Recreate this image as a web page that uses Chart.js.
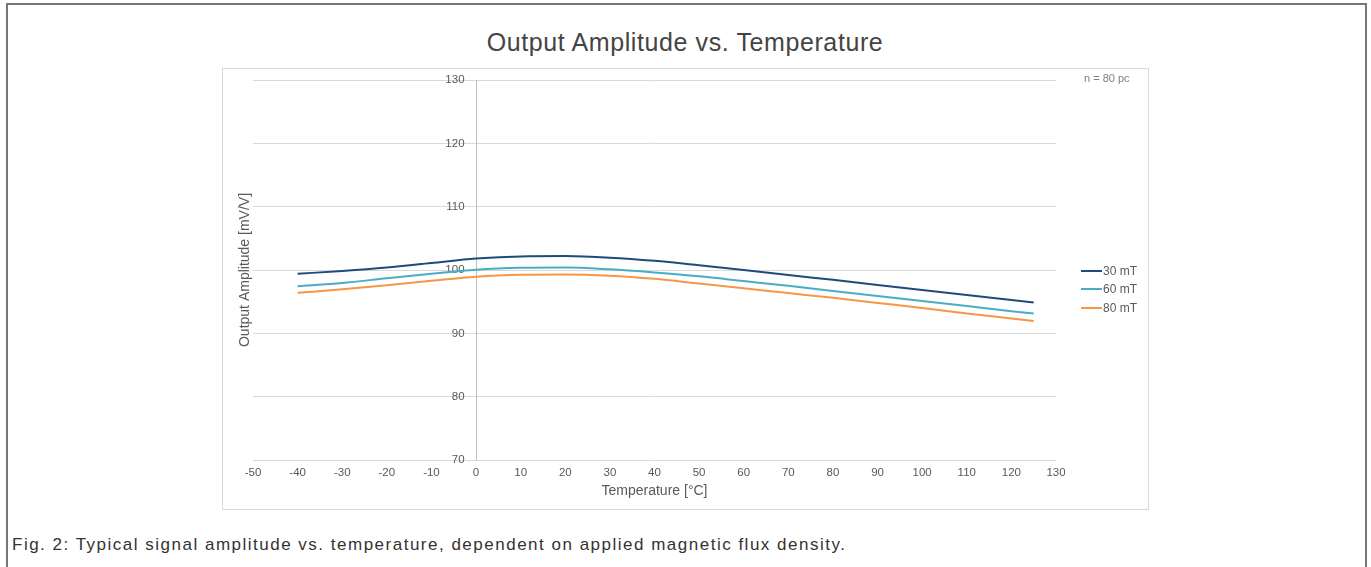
<!DOCTYPE html>
<html>
<head>
<meta charset="utf-8">
<title>Output Amplitude vs. Temperature</title>
<script src="https://cdn.jsdelivr.net/npm/chart.js@4"></script>
<style>
  body { margin: 0; background: #fff; font-family: "Liberation Sans", Arial, sans-serif; }
  #frame { position: absolute; left: 6px; top: 3px; width: 1361px; height: 620px; border: 2px solid #777; box-sizing: border-box; }
  #title { position: absolute; left: 222px; width: 926px; top: 27px; line-height: 30px; text-align: center; font-size: 25px; letter-spacing: 0.6px; color: #444; }
  #box { position: absolute; left: 222px; top: 68px; width: 927px; height: 442px; border: 1px solid #d9d9d9; box-sizing: border-box; }
  #chartWrap { position: absolute; left: 222px; top: 68px; width: 926px; height: 441px; }
  #note { position: absolute; left: 1084px; top: 71px; font-size: 11px; line-height: 14px; color: #808080; }
  .legItem { position: absolute; left: 1081px; height: 14px; font-size: 12px; line-height: 14px; color: #595959; white-space: nowrap; }
  .legItem span.ln { display: inline-block; width: 21px; height: 2px; vertical-align: middle; margin-right: 1px; position: relative; top: -1px; }
  #caption { position: absolute; left: 12px; top: 535px; font-size: 17px; line-height: 20px; letter-spacing: 1.5px; color: #333; white-space: nowrap; }
</style>
</head>
<body>
<div id="frame"></div>
<div id="title">Output Amplitude vs. Temperature</div>
<div id="box"></div>
<div id="chartWrap"><canvas id="ampChart"></canvas></div>
<div id="note">n = 80 pc</div>
<div id="legend"></div>
<div id="caption">Fig. 2: Typical signal amplitude vs. temperature, dependent on applied magnetic flux density.</div>

<script>
// temperatures [°C] and output amplitude [mV/V]
var temps = [-40, -30, -20, -10, 0, 10, 20, 30, 40, 50, 60, 70, 80, 90, 100, 110, 120, 125];
var amp30 = [99.4, 99.85, 100.4, 101.1, 101.8, 102.15, 102.2, 101.95, 101.45, 100.75, 100.0, 99.2, 98.45, 97.65, 96.85, 96.05, 95.25, 94.85];
var amp60 = [97.45, 97.95, 98.7, 99.4, 100.05, 100.35, 100.4, 100.1, 99.6, 99.0, 98.25, 97.5, 96.7, 95.9, 95.1, 94.3, 93.5, 93.15];
var amp80 = [96.4, 96.95, 97.6, 98.3, 98.95, 99.25, 99.3, 99.1, 98.6, 97.85, 97.1, 96.35, 95.6, 94.8, 94.0, 93.15, 92.35, 91.95];
var seriesNames = ["30 mT", "60 mT", "80 mT"];
var seriesColors = ["#1f4a7c", "#4bacc6", "#f79646"];

var xMin = -50, xMax = 130, xStep = 10;
var yMin = 70, yMax = 130, yStep = 10;

function toPoints(vals) {
  return temps.map(function (t, i) { return { x: t, y: vals[i] }; });
}

var allSeries = [amp30, amp60, amp80];
var datasets = allSeries.map(function (vals, i) {
  return {
    label: seriesNames[i],
    data: toPoints(vals),
    borderColor: seriesColors[i],
    backgroundColor: seriesColors[i],
    borderWidth: 2,
    pointRadius: 0,
    cubicInterpolationMode: "monotone",
    fill: false
  };
});

var font = '"Liberation Sans", Arial, sans-serif';

var chart = new Chart(document.getElementById("ampChart"), {
  type: "line",
  data: { datasets: datasets },
  options: {
    responsive: true,
    maintainAspectRatio: false,
    animation: false,
    layout: { padding: { top: 12, right: 92, left: 0, bottom: 0 } },
    plugins: {
      legend: { display: false },
      title: { display: false },
      tooltip: { enabled: false }
    },
    scales: {
      x: {
        type: "linear",
        position: "bottom",
        min: xMin,
        max: xMax,
        ticks: { stepSize: xStep, padding: 6, color: "#595959", font: { family: font, size: 11.5 } },
        grid: { display: false, drawTicks: false },
        border: { display: false },
        title: { display: true, text: "Temperature [°C]", color: "#595959", font: { family: font, size: 14 }, padding: { top: 0, bottom: 9 } },
        afterFit: function (s) { s.height = 49; s.paddingLeft = 0; s.paddingRight = 0; }
      },
      y: {
        type: "linear",
        position: { x: 0 },
        min: yMin,
        max: yMax,
        ticks: {
          stepSize: yStep,
          color: "#595959",
          font: { family: font, size: 11.5 },
          // labels sit right-aligned on the axis; trailing spaces give the gap
          callback: function (v) { return v + "\u2002\u2002"; }
        },
        grid: { color: "#d9d9d9", drawTicks: false },
        border: { display: true, color: "#bfbfbf" },
        afterFit: function (s) { s.paddingTop = 0; s.paddingBottom = 0; }
      },
      yTitle: {
        type: "linear",
        position: "left",
        min: yMin,
        max: yMax,
        ticks: { display: false },
        grid: { display: false },
        border: { display: false },
        title: { display: true, text: "Output Amplitude [mV/V]", color: "#595959", font: { family: font, size: 14 }, padding: { top: 15, bottom: 0 } },
        afterFit: function (s) { s.width = 31; s.paddingTop = 0; s.paddingBottom = 0; }
      }
    }
  }
});

// legend, built from the chart's datasets
var legendTops = [264, 282, 301];
var legend = document.getElementById("legend");
chart.data.datasets.forEach(function (ds, i) {
  var item = document.createElement("div");
  item.className = "legItem";
  item.style.top = legendTops[i] + "px";
  var ln = document.createElement("span");
  ln.className = "ln";
  ln.style.background = ds.borderColor;
  item.appendChild(ln);
  item.appendChild(document.createTextNode(ds.label));
  legend.appendChild(item);
});
</script>
</body>
</html>
